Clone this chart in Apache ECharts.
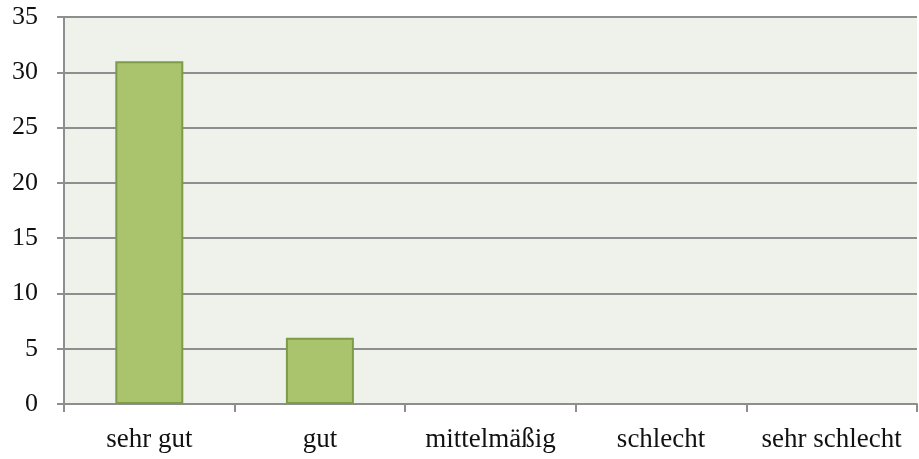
<!DOCTYPE html>
<html>
<head>
<meta charset="utf-8">
<script src="https://cdn.jsdelivr.net/npm/echarts@6/dist/echarts.min.js"></script>
<style>
  html, body { margin: 0; padding: 0; background: #fff; }
  #chart { width: 919px; height: 459px; }
</style>
</head>
<body>
<div id="chart"></div>
<script>
// Data
const categories = ['sehr gut', 'gut', 'mittelmäßig', 'schlecht', 'sehr schlecht'];
const counts = [31, 6, 0, 0, 0];

const font = 'Liberation Serif';
const gridGray = '#8e8e8e';

const myChart = echarts.init(document.getElementById('chart'));

const option = {
    animation: false,
    grid: {
        left: 64,
        right: 2,
        top: 17,
        bottom: 55,
        show: true,
        backgroundColor: '#eff1eb',
        borderWidth: 0
    },
    xAxis: {
        type: 'category',
        data: categories,
        axisLine: { lineStyle: { color: gridGray, width: 2 } },
        axisTick: { show: true, length: 8, lineStyle: { color: gridGray, width: 2 } },
        axisLabel: {
            interval: 0,
            color: '#111',
            fontFamily: font,
            fontSize: 27,
            margin: 22
        }
    },
    yAxis: {
        type: 'value',
        min: 0,
        max: 35,
        interval: 5,
        axisLine: { show: true, lineStyle: { color: gridGray, width: 2 } },
        axisTick: { show: true, length: 7, lineStyle: { color: gridGray, width: 2 } },
        splitLine: { lineStyle: { color: gridGray, width: 2 } },
        axisLabel: {
            color: '#111',
            fontFamily: font,
            fontSize: 26,
            margin: 26
        }
    },
    series: [{
        type: 'bar',
        // zero counts draw no bar at all
        data: counts.map(v => (v === 0 ? '-' : v)),
        barWidth: 68,
        itemStyle: {
            color: '#a9c46c',
            borderColor: '#7e9b48',
            borderWidth: 2
        }
    }]
};

myChart.setOption(option);
</script>
</body>
</html>
